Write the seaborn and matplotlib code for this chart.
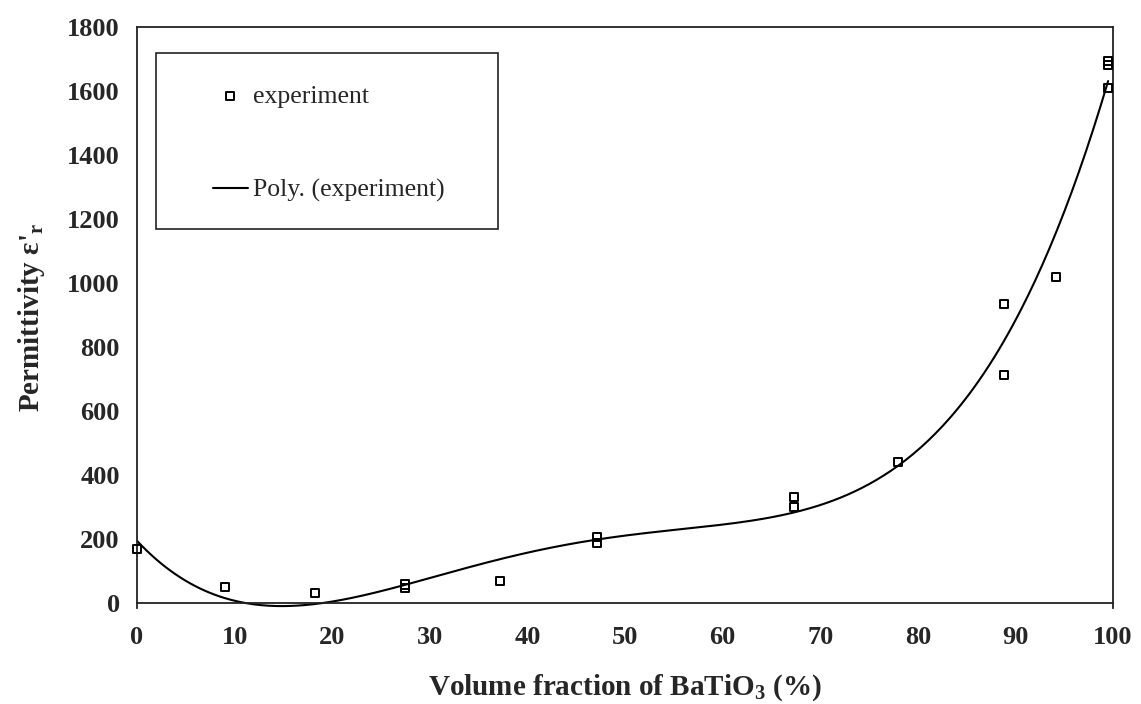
import numpy as np
import pandas as pd
import matplotlib
matplotlib.use("Agg")
import matplotlib.pyplot as plt
from matplotlib.ticker import MultipleLocator
import seaborn as sns

# ---- data ----
volume_fraction = [0.0, 9.0, 18.2, 27.5, 27.5, 37.2, 47.1, 47.1, 67.3, 67.3,
                   78.0, 88.8, 88.8, 94.2, 99.5, 99.5, 99.5]
permittivity = [168, 50, 30, 48, 58, 69, 188, 206, 300, 331,
                442, 712, 934, 1019, 1608, 1680, 1695]
poly_order = 4
x_ticks = [0, 10, 20, 30, 40, 50, 60, 70, 80, 90, 100]
y_ticks = [0, 200, 400, 600, 800, 1000, 1200, 1400, 1600, 1800]
series_label = "experiment"
trend_label = "Poly. (experiment)"
x_label = r"Volume fraction of BaTiO$_{\mathbf{3}}$ (%)"
y_label = r"Permittivity ε'$_{\mathbf{r}}$"

df = pd.DataFrame({"x": volume_fraction, "y": permittivity})
xs = np.linspace(min(volume_fraction), max(volume_fraction), 400)
coef = np.polyfit(df["x"], df["y"], poly_order)
trend = pd.DataFrame({"x": xs, "y": np.polyval(coef, xs)})

sns.set_style("white")
plt.rcParams["font.family"] = ["Liberation Serif", "DejaVu Serif"]
plt.rcParams["mathtext.fontset"] = "custom"
plt.rcParams["mathtext.rm"] = "Liberation Serif"
plt.rcParams["mathtext.bf"] = "Liberation Serif:bold"
plt.rcParams["mathtext.it"] = "Liberation Serif:italic"

fig = plt.figure(figsize=(11.41, 7.04), dpi=100)
ax = fig.add_axes([137 / 1141, 1 - 607.5 / 704, (1113 - 137) / 1141, (607.5 - 27) / 704])

sns.lineplot(data=trend, x="x", y="y", ax=ax, color="black", linewidth=1.5,
             label=trend_label, sort=False)
sns.scatterplot(data=df, x="x", y="y", ax=ax, marker="s", s=34,
                facecolor="none", edgecolor="black", linewidth=1.4,
                label=series_label, clip_on=False, zorder=5)

ax.set_xlim(0, 100)
ax.set_ylim(-14, 1800)
ax.spines["bottom"].set_position(("data", 0))
for sp in ax.spines.values():
    sp.set_color("#222222")
    sp.set_linewidth(1.3)

ax.set_xticks(x_ticks)
ax.set_yticks(y_ticks)
ax.xaxis.set_minor_locator(MultipleLocator(2))
ax.yaxis.set_minor_locator(MultipleLocator(100))
ax.tick_params(which="major", direction="inout", length=13, width=1.2,
               color="#222222", labelsize=19)
ax.tick_params(axis="x", which="major", pad=10)
ax.tick_params(axis="y", which="major", pad=6)
ax.tick_params(which="minor", direction="in", length=5, width=1.1, color="#222222")
ax.tick_params(top=False, right=False, which="both")
for lab in ax.get_xticklabels() + ax.get_yticklabels():
    lab.set_fontweight("bold")

ax.set_xlabel(x_label, fontsize=21, fontweight="bold", labelpad=17)
ax.set_ylabel(y_label, fontsize=21, fontweight="bold", labelpad=14)

# legend box
handles, labels = ax.get_legend_handles_labels()
order_idx = [labels.index(series_label), labels.index(trend_label)]
leg = ax.legend([handles[i] for i in order_idx], [labels[i] for i in order_idx],
                loc="upper left", bbox_to_anchor=(200 / 1141, 1 - 72 / 704),
                bbox_transform=fig.transFigure, frameon=False, borderpad=0,
                fontsize=18.5, handlelength=1.35, handletextpad=0.2,
                labelspacing=2.77)
rect = plt.Rectangle((156 / 1141, 1 - 229 / 704), 342 / 1141, 176 / 704,
                     transform=fig.transFigure, fill=False, edgecolor="#222222",
                     linewidth=1.2)
fig.patches.append(rect)

fig.savefig("out.png", dpi=100)
